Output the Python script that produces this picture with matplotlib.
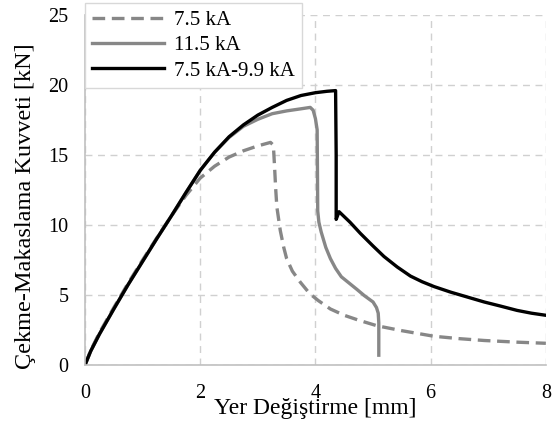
import matplotlib
matplotlib.use("Agg")
import matplotlib.pyplot as plt

# 7.5 kA (dashed)
x_75 = [0.0, 0.1, 0.25, 0.5, 0.75, 1.0, 1.25, 1.5, 1.75, 1.9, 2.0, 2.25, 2.5, 2.75, 3.0, 3.22, 3.27, 3.29, 3.31, 3.33, 3.39, 3.45, 3.5, 3.6, 3.74, 3.9, 4.05, 4.26, 4.5, 4.75, 5.07, 5.5, 6.06, 6.5, 6.93, 7.5, 8.0]
y_75 = [0.0, 1.05, 2.3, 4.1, 5.85, 7.5, 9.1, 10.65, 12.1, 12.85, 13.35, 14.2, 14.85, 15.3, 15.65, 15.9, 15.7, 14.2, 12.6, 11.3, 9.6, 8.4, 7.6, 6.7, 5.9, 5.1, 4.6, 4.0, 3.55, 3.2, 2.8, 2.45, 2.05, 1.88, 1.75, 1.63, 1.55]

# 11.5 kA (solid gray)
x_115 = [0.0, 0.1, 0.25, 0.5, 0.75, 1.0, 1.25, 1.5, 1.75, 2.0, 2.25, 2.5, 2.75, 3.0, 3.25, 3.5, 3.75, 3.91, 3.96, 4.0, 4.03, 4.035, 4.04, 4.06, 4.1, 4.18, 4.26, 4.35, 4.45, 4.6, 4.72, 4.85, 5.0, 5.06, 5.09, 5.10, 5.10]
y_115 = [0.0, 1.0, 2.2, 4.0, 5.75, 7.4, 9.05, 10.65, 12.3, 13.9, 15.2, 16.25, 17.05, 17.55, 17.95, 18.15, 18.3, 18.4, 18.2, 17.6, 16.8, 14.0, 11.0, 10.2, 9.5, 8.4, 7.6, 6.9, 6.3, 5.8, 5.4, 4.95, 4.5, 4.1, 3.7, 3.0, 0.7]

# 7.5 kA-9.9 kA (solid black)
x_99 = [0.0, 0.1, 0.25, 0.5, 0.75, 1.0, 1.25, 1.5, 1.75, 2.0, 2.25, 2.5, 2.75, 3.0, 3.25, 3.5, 3.75, 4.0, 4.2, 4.35, 4.36, 4.36, 4.41, 4.6, 4.78, 5.0, 5.19, 5.42, 5.65, 5.85, 6.06, 6.35, 6.64, 6.93, 7.22, 7.5, 7.75, 8.0]
y_99 = [0.0, 1.0, 2.2, 4.0, 5.75, 7.4, 9.05, 10.65, 12.3, 13.9, 15.2, 16.3, 17.15, 17.85, 18.4, 18.9, 19.25, 19.45, 19.55, 19.6, 15.0, 10.4, 10.95, 10.2, 9.4, 8.5, 7.75, 7.0, 6.35, 5.95, 5.6, 5.2, 4.85, 4.5, 4.2, 3.9, 3.7, 3.55]

x_ticks = [0, 2, 4, 6, 8]
y_ticks = [0, 5, 10, 15, 20, 25]
labels = ["7.5 kA", "11.5 kA", "7.5 kA-9.9 kA"]

plt.rcParams['font.family'] = ['Liberation Serif', 'DejaVu Serif']

fig = plt.figure(figsize=(5.57, 4.25), dpi=100)
ax = fig.add_axes([0.1526, 0.1412, 0.8274, 0.8235])

ax.plot(x_75, y_75, color='#878787', lw=2.4, ls=(0, (3.8, 2.0)), label=labels[0])
ax.plot(x_115, y_115, color='#878787', lw=2.4, label=labels[1])
ax.plot(x_99, y_99, color='black', lw=2.4, label=labels[2])

ax.set_xlim(0, 8)
ax.set_ylim(0, 25)
ax.set_xticks(x_ticks)
ax.set_yticks(y_ticks)
ax.grid(True, color='#d0d0d0', ls=(0, (5, 4)), lw=1.0)
ax.set_axisbelow(True)
for s in ['top', 'right']:
    ax.spines[s].set_visible(False)
for s in ['left', 'bottom']:
    ax.spines[s].set_color('#c0c0c0')
    ax.spines[s].set_linewidth(1.2)
ax.tick_params(axis='x', length=0, labelsize=14.5, pad=14)
ax.tick_params(axis='y', length=0, labelsize=14.5, pad=12)
ax.set_xlabel("Yer Değiştirme [mm]", fontsize=17, labelpad=-4)
ax.set_ylabel("Çekme-Makaslama Kuvveti [kN]", fontsize=17.5)
ax.yaxis.set_label_coords(-0.106, 0.455)

leg = ax.legend(loc='upper left', bbox_to_anchor=(85/557, 1-3/425), bbox_transform=fig.transFigure,
                fontsize=15, handlelength=3.45, frameon=True, fancybox=False, framealpha=1,
                edgecolor='#d8d8d8', borderpad=0.35, labelspacing=0.28, handletextpad=0.45,
                borderaxespad=0)
leg.get_frame().set_linewidth(1.0)

fig.savefig("out.png", dpi=100)
